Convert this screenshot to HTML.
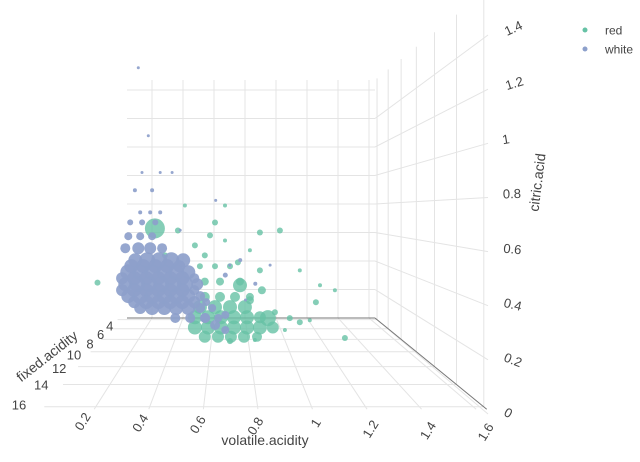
<!DOCTYPE html>
<html><head><meta charset="utf-8"><style>
html,body{margin:0;padding:0;background:#fff;}
svg{display:block;font-family:"Liberation Sans",sans-serif;}
</style></head><body>
<svg id="chart" width="640" height="462" viewBox="0 0 640 462" xmlns="http://www.w3.org/2000/svg">
<g id="grid"></g>
<g id="marks"></g>
<g id="labels"></g>
<text x="265" y="445" text-anchor="middle" font-size="14" fill="#444">volatile.acidity</text>
<text transform="translate(50,360) rotate(-38)" text-anchor="middle" font-size="14" fill="#444">fixed.acidity</text>
<text transform="translate(542,183) rotate(-83)" text-anchor="middle" font-size="14" fill="#444">citric.acid</text>
<g>
<g><circle cx="585" cy="30" r="2.5" fill="#66c2a5"/><text x="605" y="34.5" font-size="12" fill="#444">red</text></g>
<g><circle cx="585" cy="49" r="2.5" fill="#8da0cb"/><text x="605" y="53.5" font-size="12" fill="#444">white</text></g>
</g>
</svg>
<script>
const vaTicks=[0.2,0.4,0.6,0.8,1,1.2,1.4,1.6];
const vaTickLabels=["0.2","0.4","0.6","0.8","1","1.2","1.4","1.6"];
const faTicks=[4,6,8,10,12,14,16];
const caTicks=[0,0.2,0.4,0.6,0.8,1,1.2,1.4];
const caTickLabels=["0","0.2","0.4","0.6","0.8","1","1.2","1.4"];

const redVA=[0.538,0.62,0.701,0.782, 0.511,0.582,0.652,0.722,0.793,0.863, 0.511,0.582,0.652,0.722,0.793,0.863,0.933, 0.565,0.636,0.706,0.777,0.847, 0.565,0.647,0.728,0.809, 0.565,0.647,0.755, 0.538,0.62,0.701,
 0.755,0.906,0.874,0.12,1.323,1.166,0.971,1.025,1.079,1.133,0.998,0.836,0.701,0.944,0.511,0.593,0.674,0.744,0.809,0.863,0.62,0.457,0.674,0.565,0.419,0.349,0.295,1.079,1.188,1.269,0.863,0.809];
const redFA=[8.3,8.3,8.3,8.3, 8.3,8.3,8.3,8.3,8.3,8.3, 8.3,8.3,8.3,8.3,8.3,8.3,8.3, 8.3,8.3,8.3,8.3,8.3, 8.3,8.3,8.3,8.3, 8.3,8.3,8.3, 8.3,8.3,8.3,
 8.3,8.3,8.3,13,8.3,8.3,8.3,8.3,8.3,8.3,8.3,8.3,8.3,8.3,8.3,8.3,8.3,8.3,8.3,8.3,8.3,8.3,8.3,8.3,8.3,8.3,8.3,8.3,8.3,8.3,8.3,8.3];
const redCA=[0.2,0.2,0.2,0.2, 0.14,0.14,0.14,0.14,0.14,0.14, 0.08,0.08,0.08,0.08,0.08,0.08,0.08, 0.025,0.025,0.025,0.025,0.025, 0.26,0.26,0.26,0.26, 0.35,0.35,0.35, 0.44,0.44,0.44,
 0.328,0.135,0.299,0.44,0.018,0.229,0.651,0.135,0.111,0.123,0.065,0.006,0.0,0.17,0.563,0.622,0.592,0.463,0.534,0.639,0.698,0.798,0.798,0.504,0.651,0.504,0.663,0.416,0.328,0.299,0.416,0.24];
const redSize=[7,7,7,7, 7,7,7,7,7,6, 7,7,7,7,7,7,6, 6,6,6,6,5, 5,5,5,4, 4,4,4, 3,3,3,
 7,8,4,3,3,3,3,3,3,2,2,2,3,3,3,3,2,3,2,3,3,2,2,3,3,3,10,2,2,2,3,4];

const whiteVA=[0.162,0.23,0.298,0.367,0.435, 0.122,0.19,0.258,0.327,0.395,0.464, 0.105,0.173,0.241,0.31,0.378,0.446,0.515, 0.122,0.19,0.258,0.327,0.395,0.464,0.532, 0.19,0.258,0.327,0.395,0.464,0.532,0.60, 0.39,0.475,0.56,0.635,
 0.139,0.207,0.276,0.344,0.412, 0.087,0.156,0.224,0.293,0.361,0.43,0.498, 0.087,0.156,0.224,0.293,0.361,0.43,0.498, 0.156,0.224,0.293,0.361,0.43,0.498,0.566,
 0.105,0.179,0.247,0.315, 0.122,0.19,0.258, 0.133,0.201,0.276, 0.19,0.247,0.304,
 0.179,0.236,0.2,0.304,0.372,0.16,0.258,0.418,0.70,0.79,0.62,0.56,0.617,0.675,0.675,0.76,0.846,0.93,0.675];
const whiteFA=[7,7,7,7,7, 7,7,7,7,7,7, 7,7,7,7,7,7,7, 7,7,7,7,7,7,7, 7,7,7,7,7,7,7, 7,7,7,7,
 7,7,7,7,7, 7,7,7,7,7,7,7, 7,7,7,7,7,7,7, 7,7,7,7,7,7,7,
 7,7,7,7, 7,7,7, 7,7,7, 7,7,7,
 7,7,7,7,7,7,7,7,7,7,7,7,7,7,7,7,7,7,7];
const whiteCA=[0.456,0.456,0.456,0.456,0.456, 0.382,0.382,0.382,0.382,0.382,0.382, 0.308,0.308,0.308,0.308,0.308,0.308,0.308, 0.234,0.234,0.234,0.234,0.234,0.234,0.234, 0.16,0.16,0.16,0.16,0.16,0.16,0.16, 0.098,0.098,0.098,0.098,
 0.42,0.42,0.42,0.42,0.42, 0.345,0.345,0.345,0.345,0.345,0.345,0.345, 0.271,0.271,0.271,0.271,0.271,0.271,0.271, 0.197,0.197,0.197,0.197,0.197,0.197,0.197,
 0.531,0.531,0.531,0.531, 0.605,0.605,0.605, 0.691,0.691,0.691, 0.753,0.753,0.753,
 1.65,1.228,1.0,1.0,1.0,0.89,0.89,0.642,0.426,0.21,0.827,0.098,0.055,0.117,0.024,0.457,0.31,0.426,0.364];
const whiteSize=[7,8,8,8,7, 8,8,8,8,8,7, 7,8,8,8,8,8,6, 7,8,8,8,8,7,5, 6,7,7,7,7,5,4, 5,5,5,4,
 7,7,7,7,6, 6,7,7,7,7,7,5, 6,7,7,7,7,7,5, 6,7,7,7,7,6,4,
 5,6,6,5, 4,4,4, 3,3,3, 2,2,2,
 1.5,1.5,1.5,1.5,1.5,2,2,1.5,1.5,1.5,1.5,5,5,4,4,2,2,1.5,2.5];

const NS="http://www.w3.org/2000/svg";
const VX=228,VY=198,BACK_L=127,BACK_R=375,FLOOR=318,TOP=80;
function depthScale(fa){return 1/(1-(fa-3.6)*0.0343);}
function backX(va){return 152+(va-0.2)*155;}
function backY(ca){return FLOOR-ca*142.5;}
function proj(va,fa,ca){const s=depthScale(fa);return [VX+s*(backX(va)-VX),VY+s*(backY(ca)-VY)];}
function projRaw(bx,by,s){return [VX+s*(bx-VX),VY+s*(by-VY)];}
const SF=1.76;
function caLabelY(ca){return 410-ca*270.7;}
function el(tag,attrs,parent){const e=document.createElementNS(NS,tag);for(const k in attrs)e.setAttribute(k,attrs[k]);parent.appendChild(e);return e;}
const grid=document.getElementById('grid'),marks=document.getElementById('marks'),labels=document.getElementById('labels');
const GC="#e4e4e4";
vaTicks.forEach(v=>{const x=backX(v);const l=el('line',{x1:x,y1:TOP,x2:x,y2:FLOOR,stroke:GC},grid);

});
caTicks.concat([1.6]).forEach(c=>{if(c===0)return;const y=backY(c);const l=el('line',{x1:BACK_L,y1:y,x2:BACK_R,y2:y,stroke:GC},grid);

});
vaTicks.forEach(v=>{const f=projRaw(backX(v),FLOOR,SF);const l=el('line',{x1:backX(v),y1:FLOOR,x2:f[0],y2:f[1],stroke:GC},grid);

});
faTicks.forEach(fa=>{const s=depthScale(fa);const a=projRaw(BACK_L,FLOOR,s),b=projRaw(BACK_R,FLOOR,s);const l=el('line',{x1:a[0]-8,y1:a[1],x2:b[0],y2:b[1],stroke:GC},grid);


const t=el('text',{x:a[0]-12-19*(s-1),y:a[1]+11-11*(s-1),'text-anchor':'end','font-size':13,fill:'#444'},labels);t.textContent=fa;


const top=projRaw(BACK_R,TOP,s);const r=el('line',{x1:b[0],y1:b[1],x2:top[0],y2:top[1],stroke:GC},grid);

});
caTicks.forEach((c,i)=>{const y=backY(c);const l=el('line',{x1:BACK_R,y1:y,x2:488,y2:caLabelY(c)+4,stroke:GC},grid);


const ly=caLabelY(c);const t=el('text',{transform:`translate(${503+(c>1.1?4:0)},${ly+5}) rotate(${(0.75-c)*38})`,'font-size':13,fill:'#444'},labels);t.textContent=caTickLabels[i];

});
vaTicks.forEach((v,i)=>{const f=projRaw(backX(v),FLOOR,SF);const t=el('text',{transform:`translate(${f[0]-3+i*3},${f[1]+7+i*1.5}) rotate(-58)`,'text-anchor':'end','font-size':13,fill:'#444'},labels);t.textContent=vaTickLabels[i];

});
const ax1=el('line',{x1:BACK_L,y1:FLOOR,x2:BACK_R,y2:FLOOR,stroke:'#777'},grid);


const fr=projRaw(BACK_R,FLOOR,SF);
const ax2=el('line',{x1:BACK_R,y1:FLOOR,x2:fr[0],y2:fr[1],stroke:'#777'},grid);


function drawSeries(va,fa,ca,sz,color,name,op){for(let i=0;i<va.length;i++){const p=proj(va[i],fa[i],ca[i]);
const c=el('circle',{cx:p[0].toFixed(1),cy:p[1].toFixed(1),r:sz[i],fill:color,'fill-opacity':op},marks);

}}
drawSeries(redVA,redFA,redCA,redSize,'#66c2a5','point-red',0.8);
drawSeries(whiteVA,whiteFA,whiteCA,whiteSize,'#8da0cb','point-white',0.92);
</script>
</body></html>
